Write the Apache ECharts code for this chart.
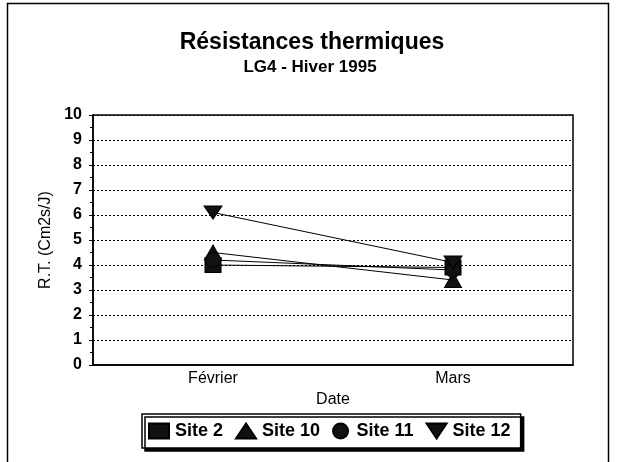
<!DOCTYPE html>
<html>
<head>
<meta charset="utf-8">
<script src="https://cdn.jsdelivr.net/npm/echarts@6/dist/echarts.min.js"></script>
<style>
  html, body { margin: 0; padding: 0; background: #fff; }
  #chart { width: 620px; height: 462px; }
</style>
</head>
<body>
<div id="chart"></div>
<script>
// categories + values
var dates = ['Février', 'Mars'];
var site2 = [4.0, 3.9];
var site10 = [4.5, 3.4];
var site11 = [4.2, 3.8];
var site12 = [6.1, 4.1];
var yTicks = [0, 10, 1];

var font = 'Liberation Sans, Arial, sans-serif';

function mkSeries(name, data, symbol, size, rotate) {
	return {
		name: name,
		type: 'line',
		data: data,
		symbol: symbol,
		symbolSize: size,
		symbolRotate: rotate || 0,
		showAllSymbol: true,
		lineStyle: { color: '#000', width: 1 },
		itemStyle: { color: '#111', borderColor: '#000', borderWidth: 1 },
		emphasis: { disabled: true },
		animation: false
	};
}

var chart = echarts.init(document.getElementById('chart'));

var option = {
	backgroundColor: '#fff',
	animation: false,
	title: [{
		text: 'Résistances thermiques',
		left: 307, top: 26, textAlign: 'center',
		textStyle: { fontFamily: font, fontSize: 23, fontWeight: 'bold', color: '#000' }
	}, {
		text: 'LG4 - Hiver 1995',
		left: 305, top: 54, textAlign: 'center',
		textStyle: { fontFamily: font, fontSize: 17, fontWeight: 'bold', color: '#000' }
	}],
	graphic: [{
		type: 'rect',
		shape: { x: 7.5, y: 3.5, width: 601, height: 470 },
		style: { fill: 'none', stroke: '#000', lineWidth: 1.5 },
		silent: true
	}],
	grid: {
		left: 93, right: 47, top: 115, bottom: 97,
		show: true, borderColor: '#000', borderWidth: 1.5
	},
	legend: {
		left: 142, top: 414,
		width: 381,
		padding: [8, 10, 8, 6],
		itemGap: 12,
		itemWidth: 20, itemHeight: 15,
		backgroundColor: '#fff',
		borderColor: '#000', borderWidth: 1.5,
		shadowColor: '#000', shadowOffsetX: 3, shadowOffsetY: 3, shadowBlur: 0,
		textStyle: { fontFamily: font, fontSize: 18, fontWeight: 'bold', color: '#000', padding: [0, 0, 0, 1] },
		data: [
			{ name: 'Site 2', icon: 'rect' },
			{ name: 'Site 10', icon: 'triangle' },
			{ name: 'Site 11', icon: 'circle' },
			{ name: 'Site 12', icon: 'path://M0,0 L12,0 L6,9 Z' }
		]
	},
	xAxis: {
		type: 'category',
		data: dates,
		name: 'Date',
		nameLocation: 'middle',
		nameGap: 25,
		nameTextStyle: { fontFamily: font, fontSize: 16, color: '#000' },
		axisLine: { lineStyle: { color: '#000', width: 1.5 } },
		axisTick: { alignWithLabel: true, length: 5, lineStyle: { color: '#000' } },
		axisLabel: { fontFamily: font, fontSize: 16, color: '#000', margin: 6 },
		splitLine: { show: false }
	},
	yAxis: {
		type: 'value',
		min: yTicks[0], max: yTicks[1], interval: yTicks[2],
		name: 'R.T. (Cm2s/J)',
		nameLocation: 'middle',
		nameRotate: 90,
		nameGap: 38,
		nameTextStyle: { fontFamily: font, fontSize: 16, color: '#000' },
		axisLine: { show: true, lineStyle: { color: '#000', width: 1.5 } },
		axisTick: { show: true, length: 4, lineStyle: { color: '#000' } },
		minorTick: { show: true, splitNumber: 2, length: 3, lineStyle: { color: '#000' } },
		axisLabel: { fontFamily: font, fontSize: 16, fontWeight: 'bold', color: '#000', margin: 11 },
		splitLine: { lineStyle: { color: '#000', type: [2, 2], width: 1 } }
	},
	series: [
		mkSeries('Site 2', site2, 'rect', [16, 15]),
		mkSeries('Site 10', site10, 'triangle', [17, 15]),
		mkSeries('Site 11', site11, 'circle', 15),
		mkSeries('Site 12', site12, 'triangle', [18, 13], 180)
	]
};

chart.setOption(option);
</script>
</body>
</html>
